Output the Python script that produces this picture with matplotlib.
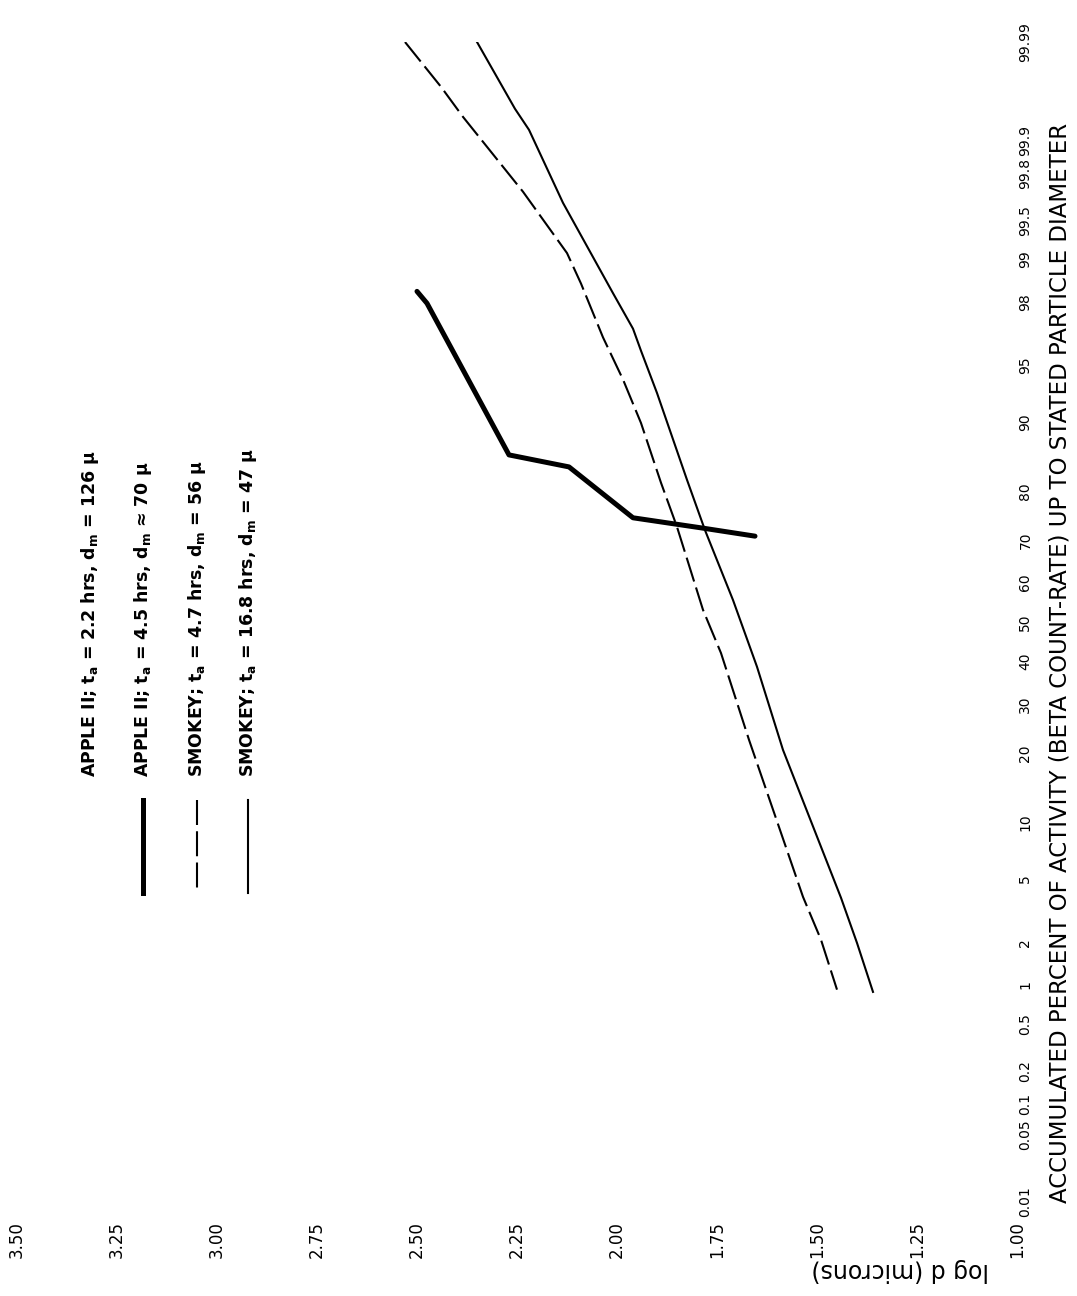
import numpy as np
import matplotlib
matplotlib.use("Agg")
import matplotlib.pyplot as plt
from matplotlib.lines import Line2D
from statistics import NormalDist

#-------------------#
#   DATA (read off) #
#-------------------#

# accumulated percent of activity vs log d (microns)
apple_45_pct  = [98.3, 97.95, 85.8, 84.0, 74.8, 72.7, 70.9]
apple_45_logd = [2.50, 2.475, 2.27, 2.12, 1.96, 1.79, 1.655]

smokey_47_pct  = [99.99, 99.97, 99.94, 99.71, 99.10, 98.5, 96.6, 94.0, 89.9,
                  81.4, 72.9, 53.1, 42.1, 22.5, 3.9, 2.08, 0.92]
smokey_47_logd = [2.53, 2.44, 2.385, 2.235, 2.125, 2.09, 2.035, 1.985, 1.94,
                  1.89, 1.85, 1.785, 1.74, 1.67, 1.535, 1.49, 1.45]

smokey_168_pct  = [99.99, 99.95, 99.92, 99.64, 98.25, 97.0, 95.9, 92.9, 81.9,
                   72.2, 55.6, 38.7, 20.6, 3.85, 1.98, 0.885]
smokey_168_logd = [2.35, 2.255, 2.22, 2.135, 2.01, 1.96, 1.94, 1.90, 1.825,
                   1.78, 1.71, 1.65, 1.585, 1.44, 1.40, 1.36]

logd_ticks = [3.50, 3.25, 3.00, 2.75, 2.50, 2.25, 2.00, 1.75, 1.50, 1.25, 1.00]
pct_ticks = [0.01, 0.05, 0.1, 0.2, 0.5, 1, 2, 5, 10, 20, 30, 40, 50, 60, 70,
             80, 90, 95, 98, 99, 99.5, 99.8, 99.9, 99.99]
pct_labels = ["0.01", "0.05", "0.1", "0.2", "0.5", "1", "2", "5", "10", "20",
              "30", "40", "50", "60", "70", "80", "90", "95", "98", "99",
              "99.5", "99.8", "99.9", "99.99"]

legend_labels = [
    "APPLE II; t$_a$ = 2.2 hrs, d$_m$ = 126 \u03bc",
    "APPLE II; t$_a$ = 4.5 hrs, d$_m$ \u2248 70 \u03bc",
    "SMOKEY; t$_a$ = 4.7 hrs, d$_m$ = 56 \u03bc",
    "SMOKEY; t$_a$ = 16.8 hrs, d$_m$ = 47 \u03bc",
]

plt.rcParams['font.family'] = ['DejaVu Sans']
plt.rcParams['mathtext.fontset'] = 'dejavusans'
plt.rcParams['mathtext.default'] = 'bf'

W, H = 1077, 1296
nd = NormalDist()


def probit(p):
    return np.array([nd.inv_cdf(v / 100.0) for v in p])


def px(x, y):
    # pixel position (from top-left) -> figure fraction
    return x / W, 1 - y / H


fig = plt.figure(figsize=(W / 100, H / 100), dpi=100)
# page is turned: log d runs right-to-left, probability runs upward
ax = fig.add_axes([17 / W, 1 - 1202 / H, 1000 / W, 1160 / H])

dash = (0, (12, 3))
ax.plot(apple_45_logd, probit(apple_45_pct), color='black', lw=3.6,
        solid_capstyle='round', solid_joinstyle='round')
ax.plot(smokey_47_logd, probit(smokey_47_pct), color='black', lw=1.5,
        linestyle=dash)
ax.plot(smokey_168_logd, probit(smokey_168_pct), color='black', lw=1.5)

ax.set_xlim(3.5, 1.0)
ax.set_ylim(nd.inv_cdf(0.0001), nd.inv_cdf(0.9999))

ax.set_xticks(logd_ticks)
ax.set_xticklabels(["%.2f" % v for v in logd_ticks], rotation=90, fontsize=12)
ax.tick_params(axis='x', length=0, pad=14)

ax.yaxis.tick_right()
ax.set_yticks(probit(pct_ticks))
ax.set_yticklabels(pct_labels, rotation=90, fontsize=10, va='center')
ax.tick_params(axis='y', length=0, pad=1)

for s in ax.spines.values():
    s.set_visible(False)

# axis titles (turned with the page)
fig.text(*px(1060, 663),
         "ACCUMULATED PERCENT OF ACTIVITY (BETA COUNT-RATE) UP TO STATED PARTICLE DIAMETER",
         rotation=90, ha='center', va='center', fontsize=16.5)
fig.text(*px(900, 1270), "log d (microns)", rotation=180,
         ha='center', va='center', fontsize=17)

# legend, drawn by hand because it is turned too
leg_x = [90, 143, 197, 248]
leg_styles = [None,
              dict(lw=3.6, ls='-'),
              dict(lw=1.5, ls=dash),
              dict(lw=1.5, ls='-')]
for xx, lab, st in zip(leg_x, legend_labels, leg_styles):
    fig.text(*px(xx, 777), lab, rotation=90, ha='center', va='bottom',
             fontsize=12.5, fontweight='bold')
    if st is not None:
        x0, y0 = px(xx, 800)
        x1, y1 = px(xx, 893)
        fig.add_artist(Line2D([x0, x1], [y0, y1], color='black',
                              linewidth=st['lw'], linestyle=st['ls']))

fig.savefig("out.png", dpi=100, facecolor='white')
